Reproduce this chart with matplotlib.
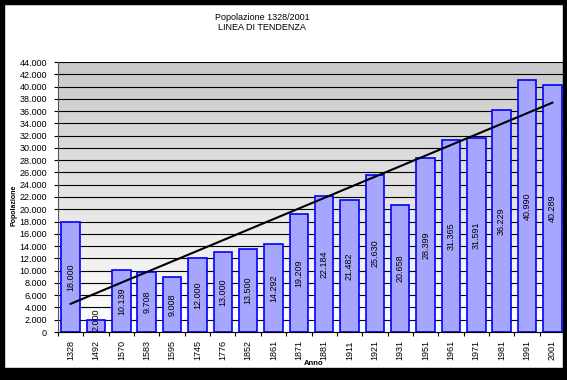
import matplotlib.pyplot as plt
import numpy as np
from matplotlib.patches import Rectangle

plt.rcParams['font.family'] = ['Liberation Sans', 'DejaVu Sans']

# dati
anni = ["1328", "1492", "1570", "1583", "1595", "1745", "1776", "1852", "1861", "1871",
        "1881", "1911", "1921", "1931", "1951", "1961", "1971", "1981", "1991", "2001"]
popolazione = [18000, 2000, 10139, 9708, 9008, 12000, 13000, 13500, 14292, 19209,
               22184, 21482, 25630, 20658, 28399, 31365, 31591, 36229, 40990, 40289]

def fmt(v):
    return "{:,}".format(int(v)).replace(",", ".")

W, H = 567, 380
fig = plt.figure(figsize=(W / 100, H / 100), dpi=100)
fig.patch.set_facecolor("white")

ax = fig.add_axes([58 / W, (H - 332) / H, (565 - 58) / W, (332 - 62) / H])
x = np.arange(len(anni))
ax.set_xlim(-0.5, len(anni) - 0.5)
ax.set_ylim(0, 44000)

# sfondo sfumato: bianco in basso, grigio in alto
grad = np.linspace(1.0, 0.79, 256).reshape(-1, 1)
ax.imshow(np.dstack([grad, grad, grad]), extent=[-0.5, len(anni) - 0.5, 0, 44000],
          origin="lower", aspect="auto", zorder=0)

ax.set_yticks(np.arange(0, 44001, 2000))
ax.set_yticklabels([fmt(v) for v in np.arange(0, 44001, 2000)], fontsize=6.5)
ax.yaxis.grid(True, color="black", lw=0.8, zorder=1)
ax.set_axisbelow(True)

ax.bar(x, popolazione, width=0.73, color="#a6a6ff", edgecolor="#0000ff", lw=1.2, zorder=2)

for i, v in enumerate(popolazione):
    ax.text(i, max(v / 2, 2000), fmt(v), rotation=90, ha="center", va="center",
            fontsize=6.5, zorder=4)

# linea di tendenza
m, q = np.polyfit(x, popolazione, 1)
ax.plot([x[0], x[-1]], [q, m * x[-1] + q], color="black", lw=1.5, zorder=3)

ax.set_xticks(x)
ax.set_xticklabels(anni, rotation=90, fontsize=6.5)
ax.set_xticks(np.arange(-0.5, len(anni)), minor=True)
ax.tick_params(axis="x", which="major", length=0, pad=6)
ax.tick_params(axis="x", which="minor", length=3, width=0.8)
ax.tick_params(axis="y", length=3, width=0.8, pad=5)

for s in ["top", "right"]:
    ax.spines[s].set_visible(False)
ax.spines["left"].set_color("#555555")
ax.spines["bottom"].set_color("black")

ax.set_ylabel("Popolazione", fontsize=5, fontweight="bold", va="center")
ax.yaxis.set_label_coords(-0.087, 0.47)
ax.set_xlabel("Anno", fontsize=5.5, fontweight="bold", va="center")
ax.xaxis.set_label_coords(0.504, -0.118)

fig.text(262 / W, 1 - 17 / H, "Popolazione 1328/2001", ha="center", va="center", fontsize=6.5)
fig.text(262 / W, 1 - 28 / H, "LINEA DI TENDENZA", ha="center", va="center", fontsize=6.5)

# cornice nera
for (x0, y0, w, h) in [(0, 0, 4, H), (563, 0, W - 563, H), (0, 0, W, 4), (0, 368, W, H - 368)]:
    fig.patches.append(Rectangle((x0 / W, 1 - (y0 + h) / H), w / W, h / H,
                                 transform=fig.transFigure, color="black", zorder=10))

fig.savefig("out.png", dpi=100)
